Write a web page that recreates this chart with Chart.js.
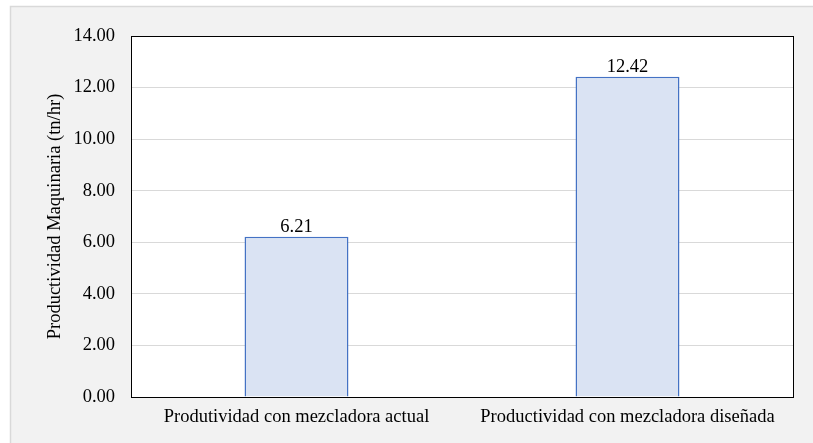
<!DOCTYPE html>
<html>
<head>
<meta charset="utf-8">
<script src="https://cdn.jsdelivr.net/npm/chart.js@4"></script>
<style>
  html, body { margin: 0; padding: 0; background: #ffffff; overflow: hidden; }
</style>
</head>
<body>
<canvas id="myChart" width="813" height="443"></canvas>
<script>
// categories and values
const categories = ["Produtividad con mezcladora actual", "Productividad con mezcladora diseñada"];
const productividad = [6.21, 12.42];
const yTicks = [0, 2, 4, 6, 8, 10, 12, 14];

const FONT = "'Liberation Serif', 'Times New Roman', serif";
const SIZE = 18.5;

const ctx = document.getElementById("myChart").getContext("2d");

// gray chart frame, white plot area + black border
const plotFrame = {
    id: "plotFrame",
    beforeDraw(chart) {
        const { ctx, chartArea: a, width, height } = chart;
        ctx.save();
        ctx.fillStyle = "#ffffff";
        ctx.fillRect(0, 0, width, height);
        ctx.fillStyle = "#f2f2f2";
        ctx.fillRect(10, 6, width - 10, height - 6);
        ctx.strokeStyle = "#d9d9d9";
        ctx.lineWidth = 1.5;
        ctx.beginPath();
        ctx.moveTo(10.5, height);
        ctx.lineTo(10.5, 6.5);
        ctx.lineTo(width, 6.5);
        ctx.stroke();
        ctx.fillStyle = "#ffffff";
        ctx.fillRect(a.left, a.top, a.right - a.left, a.bottom - a.top);
        ctx.restore();
    },
    afterDraw(chart) {
        const { ctx, chartArea: a } = chart;
        ctx.save();
        ctx.strokeStyle = "#000000";
        ctx.lineWidth = 1;
        ctx.strokeRect(Math.round(a.left) + 0.5, Math.round(a.top) + 0.5,
            Math.round(a.right - a.left), Math.round(a.bottom - a.top));
        ctx.restore();
    }
};

// value labels on top of bars
const valueLabels = {
    id: "valueLabels",
    afterDatasetsDraw(chart) {
        const ctx = chart.ctx;
        const meta = chart.getDatasetMeta(0);
        ctx.save();
        ctx.font = SIZE + "px " + FONT;
        ctx.fillStyle = "#000000";
        ctx.textAlign = "center";
        ctx.textBaseline = "alphabetic";
        meta.data.forEach((bar, i) => {
            ctx.fillText(productividad[i].toFixed(2), bar.x, bar.y - 5);
        });
        ctx.restore();
    }
};

new Chart(ctx, {
    type: "bar",
    data: {
        labels: categories,
        datasets: [
            {
                label: "Productividad",
                data: productividad,
                backgroundColor: "#dae3f3",
                borderColor: "#4472c4",
                borderWidth: 1.5,
                categoryPercentage: 1,
                barPercentage: 0.314
            }
        ]
    },
    plugins: [plotFrame, valueLabels],
    options: {
        responsive: false,
        animation: false,
        layout: { padding: { left: 0, right: 20, top: 36, bottom: 0 } },
        plugins: {
            legend: { display: false },
            tooltip: { enabled: false }
        },
        scales: {
            x: {
                grid: { display: false, drawTicks: false },
                border: { display: false },
                ticks: {
                    color: "#000000",
                    font: { family: FONT, size: SIZE },
                    padding: 9,
                    maxRotation: 0
                },
                afterFit(scale) { scale.height = 46; }
            },
            y: {
                min: 0,
                max: 14,
                afterBuildTicks(scale) { scale.ticks = yTicks.map(v => ({ value: v })); },
                grid: { color: "#d9d9d9", lineWidth: 1, drawTicks: false },
                border: { display: false },
                ticks: {
                    color: "#000000",
                    font: { family: FONT, size: SIZE },
                    padding: 16,
                    callback: v => Number(v).toFixed(2)
                },
                title: {
                    display: true,
                    text: "Productividad Maquinaria (tn/hr)",
                    color: "#000000",
                    font: { family: FONT, size: SIZE },
                    padding: { top: 44, bottom: 0 }
                },
                afterFit(scale) { scale.width = 131; }
            }
        }
    }
});
</script>
</body>
</html>
